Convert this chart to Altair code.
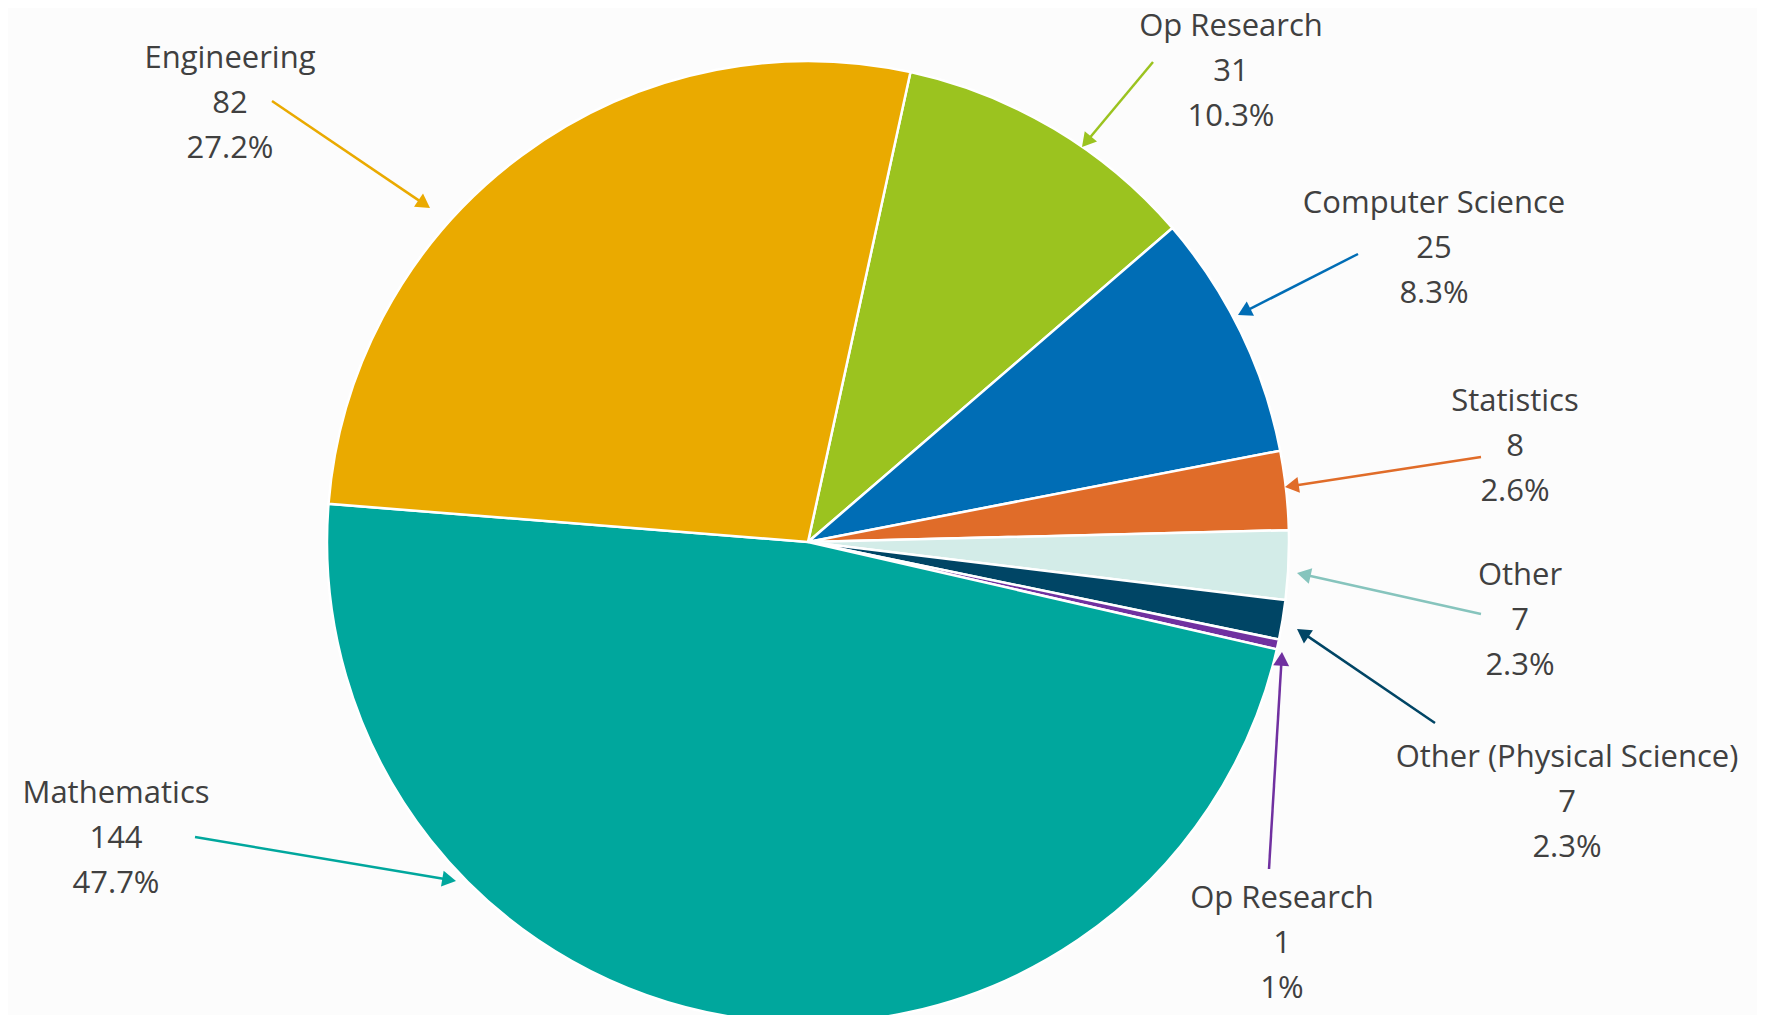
import math
import altair as alt
import pandas as pd

# ---- data (slices listed clockwise, starting just right of 12 o'clock) ----
keys = ["opr31", "cs", "stat", "other", "phys", "opr1", "math", "eng"]
names = ["Op Research", "Computer Science", "Statistics", "Other",
         "Other (Physical Science)", "Op Research", "Mathematics", "Engineering"]
slice_values = [31, 25, 8, 7, 4, 1, 144, 82]
label_counts = ["31", "25", "8", "7", "7", "1", "144", "82"]
label_pcts = ["10.3%", "8.3%", "2.6%", "2.3%", "2.3%", "1%", "47.7%", "27.2%"]

# ---- styles ----
slice_colors = ["#9BC31F", "#006DB5", "#E06C29", "#D3ECE8",
                "#004565", "#7030A0", "#00A79D", "#EAAA00"]
arrow_colors = ["#9BC31F", "#006DB5", "#E06C29", "#86C4BD",
                "#004565", "#7030A0", "#00A79D", "#EAAA00"]

# ---- layout (page pixels) ----
W, H = 1749, 1007
CX, CY, R = 808, 542, 481
START_DEG = 12.3
label_x = [1231, 1434, 1515, 1520, 1567, 1282, 116, 230]
label_y = [36, 213, 411, 585, 767, 908, 803, 68]
arrow_from_x = [1153, 1358, 1481, 1481, 1435, 1269, 195, 272]
arrow_from_y = [62, 254, 457, 614, 723, 869, 837, 101]
arrow_to_x = [1082, 1238, 1285, 1297, 1297, 1282, 456, 430]
arrow_to_y = [147, 315, 487, 573, 629, 652, 881, 208]
HEAD = 16  # arrowhead width in px
h = math.sqrt(3) / 2 * HEAD / 2

rows = []
for i, k in enumerate(keys):
    dx = arrow_to_x[i] - arrow_from_x[i]
    dy = arrow_to_y[i] - arrow_from_y[i]
    L = math.hypot(dx, dy)
    ux, uy = dx / L, dy / L
    rows.append(dict(
        idx=i, key=k, value=slice_values[i],
        label=f"{names[i]}\n{label_counts[i]}\n{label_pcts[i]}",
        lx=label_x[i], ly=label_y[i],
        sx=arrow_from_x[i], sy=arrow_from_y[i],
        ex=arrow_to_x[i] - h * ux, ey=arrow_to_y[i] - h * uy,
        hx=arrow_to_x[i] - h * ux, hy=arrow_to_y[i] - h * uy,
        ang=math.degrees(math.atan2(dx, -dy)) % 360,
        acol=arrow_colors[i],
    ))
df = pd.DataFrame(rows)

xs = alt.Scale(domain=[8, 8 + W])
ys = alt.Scale(domain=[8 + H, 8])
a0 = math.radians(START_DEG)

base = alt.Chart(df)

pie = base.mark_arc(outerRadius=R, stroke="white", strokeWidth=2.5).encode(
    theta=alt.Theta("value:Q", stack=True, scale=alt.Scale(range=[a0, a0 + 2 * math.pi])),
    color=alt.Color("key:N", scale=alt.Scale(domain=keys, range=slice_colors), legend=None),
    order=alt.Order("idx:Q"),
    x=alt.value(CX - 8),
    y=alt.value(CY - 8),
)

shafts = base.mark_rule(strokeWidth=2.5).encode(
    x=alt.X("sx:Q", scale=xs, axis=None),
    y=alt.Y("sy:Q", scale=ys, axis=None),
    x2="ex:Q",
    y2="ey:Q",
    color=alt.Color("acol:N", scale=None),
)

heads = base.mark_point(shape="triangle-up", filled=True, opacity=1, strokeWidth=0).encode(
    x=alt.X("hx:Q", scale=xs, axis=None),
    y=alt.Y("hy:Q", scale=ys, axis=None),
    angle=alt.Angle("ang:Q", scale=None),
    color=alt.Color("acol:N", scale=None),
    size=alt.value(HEAD * HEAD),
)

labels = base.mark_text(
    align="center", baseline="alphabetic", lineBreak="\n", lineHeight=45,
    font="Open Sans", fontSize=31, color="#404040",
).encode(
    x=alt.X("lx:Q", scale=xs, axis=None),
    y=alt.Y("ly:Q", scale=ys, axis=None),
    text="label:N",
)

chart = alt.layer(pie, shafts, heads, labels).properties(
    width=W, height=H, padding=0, autosize="none", background="#fcfcfc"
).configure_view(stroke=None)

chart.save("out.html", embed_options={"renderer": "svg", "actions": False})
